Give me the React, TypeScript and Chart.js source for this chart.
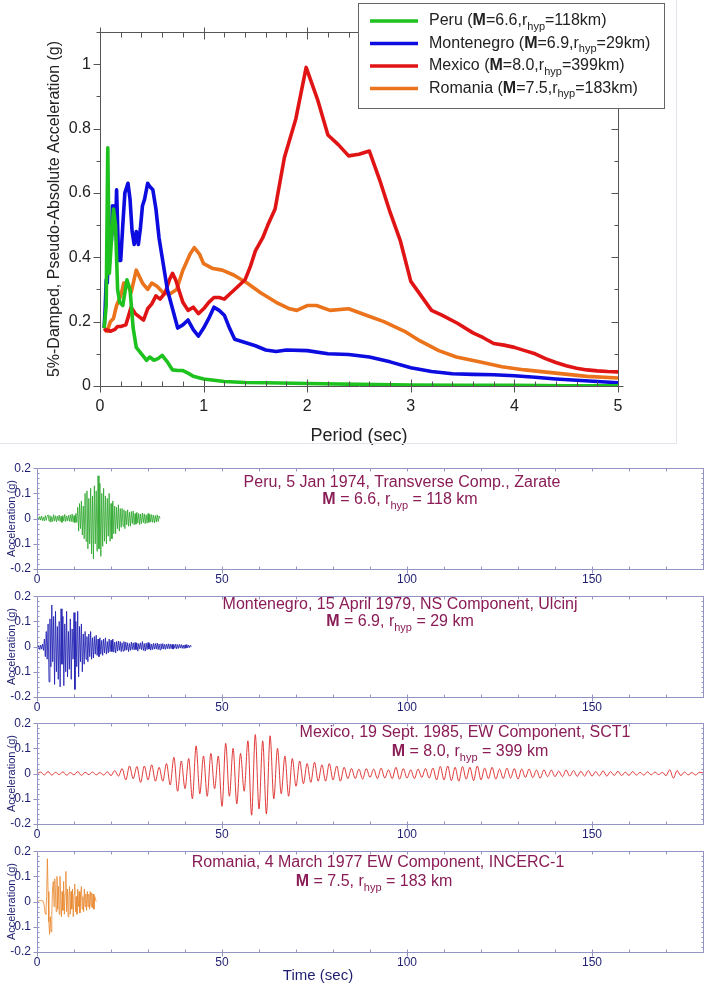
import React, { useEffect, useRef } from 'react';
import { Chart, registerables } from 'chart.js';

Chart.register(...registerables);

const FONT = '"Liberation Sans", Arial, Helvetica, sans-serif';

// ---------- Response spectra (period in s, Sa in g) ----------
const PERU_T = [0.04, 0.06, 0.075, 0.09, 0.11, 0.13, 0.15, 0.17, 0.19, 0.22, 0.26, 0.29, 0.32, 0.35, 0.4, 0.45, 0.48, 0.52, 0.56, 0.6, 0.65, 0.7, 0.75, 0.8, 0.85, 0.9, 1.0, 1.1, 1.2, 1.4, 1.6, 2.0, 2.5, 3.0, 3.5, 4.0, 4.5, 5.0];
const PERU_SA = [0.18, 0.25, 0.74, 0.35, 0.45, 0.55, 0.5, 0.3, 0.26, 0.25, 0.33, 0.3, 0.18, 0.12, 0.1, 0.08, 0.09, 0.08, 0.085, 0.095, 0.075, 0.05, 0.048, 0.048, 0.04, 0.03, 0.022, 0.018, 0.014, 0.011, 0.01, 0.008, 0.005, 0.003, 0.002, 0.002, 0.001, 0.001];

const MONT_T = [0.04, 0.05, 0.06, 0.07, 0.08, 0.09, 0.1, 0.11, 0.12, 0.13, 0.14, 0.15, 0.16, 0.17, 0.18, 0.2, 0.22, 0.24, 0.27, 0.29, 0.31, 0.33, 0.35, 0.37, 0.39, 0.41, 0.43, 0.46, 0.48, 0.51, 0.54, 0.57, 0.6, 0.65, 0.7, 0.75, 0.8, 0.85, 0.9, 0.95, 1.0, 1.05, 1.1, 1.15, 1.2, 1.25, 1.3, 1.4, 1.5, 1.6, 1.7, 1.8, 2.0, 2.2, 2.4, 2.6, 2.8, 3.0, 3.2, 3.4, 3.6, 3.8, 4.0, 4.2, 4.4, 4.6, 4.8, 5.0];
const MONT_SA = [0.18, 0.24, 0.33, 0.32, 0.4, 0.38, 0.5, 0.45, 0.56, 0.52, 0.56, 0.47, 0.61, 0.5, 0.39, 0.39, 0.5, 0.6, 0.63, 0.58, 0.48, 0.44, 0.48, 0.44, 0.49, 0.56, 0.58, 0.63, 0.62, 0.61, 0.55, 0.46, 0.4, 0.3, 0.24, 0.18, 0.19, 0.205, 0.175, 0.155, 0.18, 0.21, 0.245, 0.235, 0.22, 0.18, 0.145, 0.135, 0.125, 0.112, 0.107, 0.112, 0.11, 0.1, 0.098, 0.09, 0.075, 0.057, 0.045, 0.038, 0.036, 0.035, 0.032, 0.027, 0.022, 0.018, 0.014, 0.01];

const MEX_T = [0.04, 0.06, 0.1, 0.14, 0.17, 0.2, 0.25, 0.3, 0.34, 0.38, 0.42, 0.46, 0.5, 0.54, 0.58, 0.63, 0.67, 0.7, 0.73, 0.76, 0.8, 0.85, 0.9, 0.95, 1.0, 1.05, 1.1, 1.15, 1.2, 1.25, 1.3, 1.4, 1.45, 1.5, 1.57, 1.62, 1.69, 1.78, 1.89, 1.99, 2.1, 2.2, 2.3, 2.4, 2.5, 2.6, 2.7, 2.8, 2.9, 3.0, 3.1, 3.2, 3.3, 3.45, 3.6, 3.7, 3.8, 3.9, 4.0, 4.1, 4.2, 4.3, 4.4, 4.5, 4.6, 4.7, 4.8, 4.9, 5.0];
const MEX_SA = [0.17, 0.175, 0.17, 0.175, 0.185, 0.185, 0.19, 0.245, 0.225, 0.215, 0.205, 0.24, 0.255, 0.28, 0.27, 0.29, 0.33, 0.35, 0.33, 0.3, 0.26, 0.235, 0.245, 0.225, 0.24, 0.26, 0.275, 0.275, 0.27, 0.285, 0.3, 0.33, 0.37, 0.42, 0.46, 0.5, 0.55, 0.71, 0.83, 0.99, 0.89, 0.78, 0.75, 0.715, 0.72, 0.73, 0.64, 0.54, 0.45, 0.325, 0.28, 0.235, 0.22, 0.195, 0.165, 0.15, 0.132, 0.127, 0.12, 0.11, 0.1, 0.085, 0.073, 0.063, 0.055, 0.05, 0.047, 0.045, 0.044];

const ROM_T = [0.04, 0.07, 0.1, 0.13, 0.16, 0.2, 0.23, 0.26, 0.3, 0.35, 0.41, 0.46, 0.5, 0.55, 0.61, 0.67, 0.74, 0.8, 0.87, 0.91, 0.96, 1.0, 1.09, 1.18, 1.29, 1.42, 1.55, 1.7, 1.83, 1.9, 2.0, 2.09, 2.22, 2.4, 2.57, 2.74, 2.94, 3.09, 3.27, 3.44, 3.66, 3.88, 4.1, 4.4, 4.7, 5.0];
const ROM_SA = [0.18, 0.17, 0.2, 0.21, 0.25, 0.28, 0.32, 0.32, 0.29, 0.36, 0.32, 0.3, 0.32, 0.31, 0.29, 0.285, 0.3, 0.36, 0.41, 0.43, 0.41, 0.38, 0.365, 0.36, 0.345, 0.32, 0.29, 0.26, 0.24, 0.235, 0.25, 0.25, 0.235, 0.24, 0.22, 0.2, 0.17, 0.14, 0.11, 0.09, 0.075, 0.06, 0.05, 0.04, 0.03, 0.025];

// ---------- Acceleration time histories (g), sampled at a fixed step ----------
const PERU_DT = 0.25;
const PERU_ACC = [
  0, 0.005, -0.004, 0.008, -0.006, 0.01, -0.008, 0.006, -0.01, 0.012, -0.007, 0.009,
  0.015, -0.01, 0.012, -0.014, 0.008, -0.012, 0.016, -0.009, 0.011, -0.013, 0.01, -0.008,
  0.014, -0.011, 0.009, -0.015, 0.012, -0.01, 0.017, -0.012, 0.01, -0.009, 0.013, -0.011,
  0.015, -0.012, 0.018, -0.014, 0.012, -0.016, 0.02, -0.015,
  0.045, -0.05, 0.06, -0.04, 0.07, -0.065, 0.05, -0.08,
  0.1, -0.09, 0.11, -0.12, 0.08, -0.1, 0.12, -0.14,
  0.09, -0.16, 0.13, -0.1, 0.11, -0.13, 0.17, -0.12,
  0.14, -0.15, 0.1, -0.11, 0.12, -0.09, 0.09, -0.1,
  0.08, -0.07, 0.1, -0.09, 0.06, -0.08, 0.07, -0.06,
  0.05, -0.06, 0.045, -0.04, 0.055, -0.05, 0.04, -0.035,
  0.04, -0.03, 0.035, -0.04, 0.03, -0.025, 0.035, -0.03,
  0.025, -0.03, 0.028, -0.02, 0.03, -0.025, 0.02, -0.022, 0.025, -0.018, 0.02, -0.024,
  0.018, -0.02, 0.022, -0.016, 0.019, -0.02, 0.015, -0.018, 0.02, -0.015, 0.017, -0.014,
  0.016, -0.015, 0.014, -0.017, 0.012, -0.013, 0.015, -0.012, 0.01, 0.0,
];

const MONT_DT = 0.25;
const MONT_ACC = [
  0, -0.008, 0.004, -0.012, 0.006, -0.01, 0.01, -0.015,
  0.03, -0.04, 0.06, -0.05, 0.09, -0.14, 0.11, -0.08,
  0.165, -0.06, 0.12, -0.15, 0.14, -0.1, 0.08, -0.13,
  0.1, -0.16, 0.15, -0.07, 0.12, -0.155, 0.09, -0.1,
  0.14, -0.12, 0.06, -0.09, 0.11, -0.13, 0.07, -0.05,
  0.135, -0.17, 0.1, -0.08, 0.14, -0.12, 0.08, -0.06,
  0.09, -0.1, 0.05, -0.07, 0.06, -0.05, 0.04, -0.06,
  0.05, -0.04, 0.06, -0.05, 0.035, -0.045, 0.04, -0.03,
  0.045, -0.035, 0.03, -0.04, 0.035, -0.03, 0.025, -0.035,
  0.03, -0.025, 0.035, -0.03, 0.02, -0.025, 0.03, -0.02,
  0.025, -0.02, 0.03, -0.022, 0.018, -0.025, 0.02, -0.018, 0.022, -0.015, 0.02, -0.02, 0.015, -0.018, 0.02, -0.015,
  0.018, -0.014, 0.015, -0.02, 0.012, -0.015, 0.018, -0.012, 0.015, -0.013, 0.016, -0.012, 0.014, -0.018, 0.012, -0.01,
  0.015, -0.012, 0.02, -0.015, 0.012, -0.018, 0.014, -0.012, 0.016, -0.01, 0.012, -0.014, 0.01, -0.012, 0.013, -0.01,
  0.012, -0.01, 0.014, -0.012, 0.01, -0.013, 0.011, -0.009, 0.012, -0.01, 0.009, -0.011, 0.01, -0.008, 0.011, -0.009,
  0.01, -0.008, 0.009, -0.01, 0.008, -0.007, 0.01, -0.009, 0.008, -0.007, 0.009, -0.006, 0.008, -0.007, 0.006, -0.008,
  0.007, -0.006, 0.008, -0.005, 0.006, -0.004, 0.005, 0.0,
];

// Mexico: successive half-cycle peaks, one per second
const MEX_DT = 1;
const MEX_ACC = [
  0, 0.006, -0.005, 0.008, -0.006, 0.005, -0.004, 0.007, -0.006, 0.004,
  -0.005, 0.008, -0.007, 0.005, -0.004, 0.006, -0.005, 0.004, -0.006, 0.007,
  -0.008, 0.012, -0.01, 0.02, -0.025, 0.03, -0.02, 0.028, -0.035, 0.03,
  -0.025, 0.035, -0.03, 0.025, -0.03, 0.04, -0.045, 0.065, -0.07, 0.05,
  -0.06, 0.06, -0.1, 0.11, -0.08, 0.07, -0.09, 0.08, -0.06, 0.07,
  -0.13, 0.12, -0.09, 0.1, -0.12, 0.08, -0.07, 0.13, -0.165, 0.155,
  -0.14, 0.13, -0.16, 0.15, -0.1, 0.1, -0.08, 0.07, -0.09, 0.06,
  -0.05, 0.05, -0.04, 0.04, -0.035, 0.045, -0.03, 0.035, -0.03, 0.04,
  -0.025, 0.03, -0.03, 0.025, -0.02, 0.02, -0.02, 0.018, -0.022, 0.02,
  -0.015, 0.018, -0.02, 0.022, -0.018, 0.015, -0.02, 0.025, -0.022, 0.02,
  -0.018, 0.015, -0.02, 0.018, -0.015, 0.02, -0.018, 0.022, -0.025, 0.028,
  -0.025, 0.03, -0.028, 0.025, -0.03, 0.028, -0.022, 0.025, -0.028, 0.03,
  -0.025, 0.022, -0.02, 0.025, -0.022, 0.018, -0.02, 0.022, -0.018, 0.02,
  -0.022, 0.018, -0.015, 0.018, -0.016, 0.014, -0.018, 0.015, -0.012, 0.014,
  -0.012, 0.01, -0.012, 0.014, -0.01, 0.012, -0.011, 0.009, -0.01, 0.012,
  -0.01, 0.008, -0.009, 0.011, -0.01, 0.008, -0.007, 0.009, -0.008, 0.006,
  -0.007, 0.008, -0.006, 0.005, -0.006, 0.007, -0.005, 0.006, -0.004, 0.005,
  -0.008, 0.015, -0.018, 0.012, -0.008, 0.006, -0.005, 0.004, -0.006, 0.005, 0.003,
];

const ROM_DT = 0.2;
const ROM_ACC = [
  0, 0.003, 0.002, 0.004, 0.005, 0.004, 0.006, 0.003, 0.002, -0.005,
  -0.02, -0.045, -0.05, 0.02, 0.17, 0.04, -0.08, -0.13, -0.06, -0.12,
  -0.05, 0.05, 0.08, -0.02, 0.09, 0.03, -0.04, 0.1, -0.03, 0.06,
  -0.05, 0.1, 0.02, -0.06, 0.04, -0.035, 0.08, -0.05, 0.03, 0.12,
  -0.04, 0.05, -0.06, 0.02, 0.06, -0.05, 0.04, -0.03, 0.05, -0.06,
  0.03, 0.07, -0.04, 0.02, -0.05, 0.05, -0.02, 0.04, -0.045, 0.03,
  0.06, -0.03, 0.02, -0.04, 0.05, -0.02, 0.03, -0.035, 0.04, -0.02,
  0.03, -0.03, 0.04, -0.02, 0.035, -0.025, 0.03, -0.03, 0.02, 0.01, 0.0,
];

// ---------- helpers ----------
type Seg = { t: string; b?: boolean; sub?: boolean };

function drawRich(ctx: CanvasRenderingContext2D, segs: Seg[], x: number, y: number, size: number, color: string, align: 'left' | 'center') {
  ctx.save();
  const fontFor = (s: Seg) => `${s.b ? 'bold ' : ''}${s.sub ? Math.round(size * 0.7) : size}px ${FONT}`;
  let total = 0;
  const widths = segs.map((s) => {
    ctx.font = fontFor(s);
    const w = ctx.measureText(s.t).width;
    total += w;
    return w;
  });
  let cx = align === 'center' ? x - total / 2 : x;
  ctx.fillStyle = color;
  ctx.textBaseline = 'middle';
  ctx.textAlign = 'left';
  segs.forEach((s, i) => {
    ctx.font = fontFor(s);
    ctx.fillText(s.t, cx, s.sub ? y + size * 0.35 : y);
    cx += widths[i];
  });
  ctx.restore();
}

function seg(ctx: CanvasRenderingContext2D, x1: number, y1: number, x2: number, y2: number) {
  ctx.beginPath();
  ctx.moveTo(x1, y1);
  ctx.lineTo(x2, y2);
  ctx.stroke();
}

const GREEN = '#1ec21e';
const BLUE = '#0c0ce0';
const RED = '#e01414';
const ORANGE = '#ea731c';

const LEGEND: { color: string; segs: Seg[] }[] = [
  { color: GREEN, segs: [{ t: 'Peru (' }, { t: 'M', b: true }, { t: '=6.6,r' }, { t: 'hyp', sub: true }, { t: '=118km)' }] },
  { color: BLUE, segs: [{ t: 'Montenegro (' }, { t: 'M', b: true }, { t: '=6.9,r' }, { t: 'hyp', sub: true }, { t: '=29km)' }] },
  { color: RED, segs: [{ t: 'Mexico (' }, { t: 'M', b: true }, { t: '=8.0,r' }, { t: 'hyp', sub: true }, { t: '=399km)' }] },
  { color: ORANGE, segs: [{ t: 'Romania (' }, { t: 'M', b: true }, { t: '=7.5,r' }, { t: 'hyp', sub: true }, { t: '=183km)' }] },
];

const toXY = (t: number[], v: number[]) => t.map((x, i) => ({ x, y: v[i] }));

function SpectraChart() {
  const ref = useRef<HTMLCanvasElement>(null);
  useEffect(() => {
    const frame = {
      id: 'spectraFrame',
      afterDraw(chart: any) {
        const { ctx, chartArea: a, scales } = chart;
        const xs = scales.x;
        const ys = scales.y;
        const L = Math.round(a.left) + 0.5;
        const R = Math.round(a.right) + 0.5;
        const T = Math.round(a.top) + 0.5;
        const B = Math.round(a.bottom) + 0.5;
        ctx.save();
        ctx.strokeStyle = '#e4e4ec';
        ctx.lineWidth = 1;
        seg(ctx, 676.5, 0, 676.5, 443.5);
        seg(ctx, 0, 443.5, 676.5, 443.5);
        ctx.strokeStyle = '#555';
        ctx.lineWidth = 1;
        seg(ctx, L, T, R, T);
        seg(ctx, L, B, R, B);
        seg(ctx, L, T, L, B);
        seg(ctx, R, T, R, B);
        for (let i = 0; i <= 25; i++) {
          const px = Math.round(xs.getPixelForValue(i * 0.2)) + 0.5;
          const major = i % 5 === 0;
          seg(ctx, px, B, px, B - (major ? 7 : 5));
          seg(ctx, px, T, px, T + (major ? 7 : 5));
          if (major) {
            seg(ctx, px, B, px, B + 6);
            seg(ctx, px, T, px, T - 5);
          }
        }
        for (let i = 0; i <= 11; i++) {
          const py = Math.round(ys.getPixelForValue(i * 0.1)) + 0.5;
          const major = i % 2 === 0;
          seg(ctx, L, py, L - (major ? 7 : 4), py);
          seg(ctx, R, py, R - (major ? 7 : 4), py);
          if (i === 0) seg(ctx, R, py, R + 5, py);
        }
        ctx.fillStyle = '#fff';
        ctx.fillRect(358, 3, 306, 105);
        ctx.strokeStyle = '#666';
        ctx.strokeRect(358.5, 3.5, 306, 105);
        LEGEND.forEach((e, i) => {
          const y = 21 + i * 22.5;
          ctx.strokeStyle = e.color;
          ctx.lineWidth = 3.5;
          seg(ctx, 370, y, 418, y);
          drawRich(ctx, e.segs, 429, y, 16, '#222', 'left');
        });
        ctx.restore();
      },
    };
    const ds = (label: string, t: number[], v: number[], color: string) => ({
      label,
      data: toXY(t, v),
      borderColor: color,
      backgroundColor: color,
      borderWidth: 3.6,
      pointRadius: 0,
      fill: false,
      tension: 0,
      borderJoinStyle: 'round' as const,
    });
    const chart = new Chart(ref.current!, {
      type: 'line',
      data: {
        datasets: [
          ds('Peru', PERU_T, PERU_SA, GREEN),
          ds('Montenegro', MONT_T, MONT_SA, BLUE),
          ds('Mexico', MEX_T, MEX_SA, RED),
          ds('Romania', ROM_T, ROM_SA, ORANGE),
        ],
      },
      options: {
        responsive: false,
        animation: false,
        devicePixelRatio: 1,
        layout: { padding: { left: 0, right: 90, top: 32, bottom: 0 } },
        plugins: { legend: { display: false }, tooltip: { enabled: false } },
        scales: {
          x: {
            type: 'linear',
            min: 0,
            max: 5,
            grid: { display: false, drawTicks: false },
            border: { display: false },
            ticks: { stepSize: 1, includeBounds: false, padding: 11, maxRotation: 0, color: '#222', font: { family: FONT, size: 16 } },
            title: { display: true, text: 'Period (sec)', color: '#222', font: { family: FONT, size: 18 }, padding: { top: 0, bottom: 13 } },
            afterFit: (s: any) => { s.height = 74; },
          },
          y: {
            type: 'linear',
            min: 0,
            max: 1.1,
            grid: { display: false, drawTicks: false },
            border: { display: false },
            ticks: { stepSize: 0.2, includeBounds: false, padding: 9, color: '#222', font: { family: FONT, size: 16 }, callback: (v: any) => String(Math.round(Number(v) * 10) / 10) },
            title: { display: true, text: '5%-Damped, Pseudo-Absolute Acceleration (g)', color: '#222', font: { family: FONT, size: 16 }, padding: { top: 45, bottom: 0 } },
            afterFit: (s: any) => { s.width = 100; },
          },
        },
      } as any,
      plugins: [frame],
    });
    return () => chart.destroy();
  }, []);
  return <canvas ref={ref} width={708} height={460} style={{ position: 'absolute', left: 0, top: 0 }} />;
}

const NAVY = '#1e1e70';
const MAROON = '#8a1c56';
const BOX = '#9494c4';

type PanelProps = {
  values: number[];
  dt: number;
  color: string;
  smooth?: boolean;
  line1: string;
  line2: Seg[];
  cx1: number;
  cx2: number;
  y1: number;
  y2: number;
  top: number;
  height: number;
  timeTitle?: boolean;
};

function Panel(p: PanelProps) {
  const ref = useRef<HTMLCanvasElement>(null);
  useEffect(() => {
    const frame = {
      id: 'panelFrame',
      afterDraw(chart: any) {
        const { ctx, chartArea: a, scales } = chart;
        const xs = scales.x;
        const ys = scales.y;
        const L = Math.round(a.left) + 0.5;
        const R = Math.round(a.right) + 0.5;
        const T = Math.round(a.top) + 0.5;
        const B = Math.round(a.bottom) + 0.5;
        ctx.save();
        ctx.strokeStyle = BOX;
        ctx.lineWidth = 1;
        seg(ctx, L, T, R, T);
        seg(ctx, L, B, R, B);
        seg(ctx, L, T, L, B);
        seg(ctx, R, T, R, B);
        for (let i = 0; i <= 18; i++) {
          const px = Math.round(xs.getPixelForValue(i * 10)) + 0.5;
          const major = i % 5 === 0;
          seg(ctx, px, B, px, B - 3);
          seg(ctx, px, T, px, T + 3);
          if (major) seg(ctx, px, B, px, B + 4);
        }
        for (let i = 0; i <= 20; i++) {
          const py = Math.round(ys.getPixelForValue(-0.2 + i * 0.02)) + 0.5;
          const major = i % 5 === 0;
          seg(ctx, L, py, L + 2, py);
          seg(ctx, R, py, R - 2, py);
          if (major) seg(ctx, L, py, L - 4, py);
        }
        ctx.fillStyle = MAROON;
        ctx.font = `16px ${FONT}`;
        ctx.textAlign = 'center';
        ctx.textBaseline = 'middle';
        ctx.fillText(p.line1, p.cx1, p.y1);
        drawRich(ctx, p.line2, p.cx2, p.y2, 16, MAROON, 'center');
        if (p.timeTitle) {
          ctx.fillStyle = NAVY;
          ctx.font = `15px ${FONT}`;
          ctx.textAlign = 'center';
          ctx.textBaseline = 'middle';
          ctx.fillText('Time (sec)', 318, 138);
        }
        ctx.restore();
      },
    };
    const data = p.values.map((v, i) => ({ x: Math.round(i * p.dt * 1000) / 1000, y: v }));
    const chart = new Chart(ref.current!, {
      type: 'line',
      data: {
        datasets: [
          {
            data,
            borderColor: p.color,
            borderWidth: p.smooth ? 0.9 : 0.8,
            pointRadius: 0,
            fill: false,
            tension: 0,
            cubicInterpolationMode: p.smooth ? 'monotone' : 'default',
          },
        ],
      },
      options: {
        responsive: false,
        animation: false,
        devicePixelRatio: 1,
        layout: { padding: { left: 0, right: 5, top: 10, bottom: 0 } },
        plugins: { legend: { display: false }, tooltip: { enabled: false } },
        scales: {
          x: {
            type: 'linear',
            min: 0,
            max: 180,
            grid: { display: false, drawTicks: false },
            border: { display: false },
            ticks: { stepSize: 50, includeBounds: false, padding: 3, maxRotation: 0, color: NAVY, font: { family: FONT, size: 12 } },
            afterFit: (s: any) => { s.height = p.height - 114; },
          },
          y: {
            type: 'linear',
            min: -0.2,
            max: 0.2,
            grid: { display: false, drawTicks: false },
            border: { display: false },
            ticks: { stepSize: 0.1, padding: 6, color: NAVY, font: { family: FONT, size: 12 }, callback: (v: any) => String(Math.round(Number(v) * 10) / 10) },
            title: { display: true, text: 'Acceleration (g)', color: NAVY, font: { family: FONT, size: 11 }, padding: { top: 5, bottom: 0 } },
            afterFit: (s: any) => { s.width = 37; },
          },
        },
      } as any,
      plugins: [frame],
    });
    return () => chart.destroy();
  }, []);
  return <canvas ref={ref} width={708} height={p.height} style={{ position: 'absolute', left: 0, top: p.top }} />;
}

export default function App() {
  return (
    <div style={{ position: 'absolute', left: 0, top: 0, width: 708, height: 986, background: '#fff', overflow: 'hidden' }}>
      <SpectraChart />
      <Panel
        values={PERU_ACC}
        dt={PERU_DT}
        color="#2aa62a"
        line1="Peru, 5 Jan 1974, Transverse Comp., Zarate"
        line2={[{ t: 'M', b: true }, { t: ' = 6.6, r' }, { t: 'hyp', sub: true }, { t: ' = 118 km' }]}
        cx1={402}
        cx2={400}
        y1={28}
        y2={45}
        top={455}
        height={128}
      />
      <Panel
        values={MONT_ACC}
        dt={MONT_DT}
        color="#1818b0"
        line1="Montenegro, 15 April 1979, NS Component, Ulcinj"
        line2={[{ t: 'M', b: true }, { t: ' = 6.9, r' }, { t: 'hyp', sub: true }, { t: ' = 29 km' }]}
        cx1={400}
        cx2={400}
        y1={22}
        y2={39}
        top={583}
        height={128}
      />
      <Panel
        values={MEX_ACC}
        dt={MEX_DT}
        smooth
        color="#dc2424"
        line1="Mexico, 19 Sept. 1985, EW Component, SCT1"
        line2={[{ t: 'M', b: true }, { t: ' = 8.0, r' }, { t: 'hyp', sub: true }, { t: ' = 399 km' }]}
        cx1={465}
        cx2={470}
        y1={23}
        y2={42}
        top={710}
        height={128}
      />
      <Panel
        values={ROM_ACC}
        dt={ROM_DT}
        color="#e8862c"
        line1="Romania, 4 March 1977 EW Component, INCERC-1"
        line2={[{ t: 'M', b: true }, { t: ' = 7.5, r' }, { t: 'hyp', sub: true }, { t: ' = 183 km' }]}
        cx1={378}
        cx2={374}
        y1={25}
        y2={44}
        top={838}
        height={148}
        timeTitle
      />
    </div>
  );
}
